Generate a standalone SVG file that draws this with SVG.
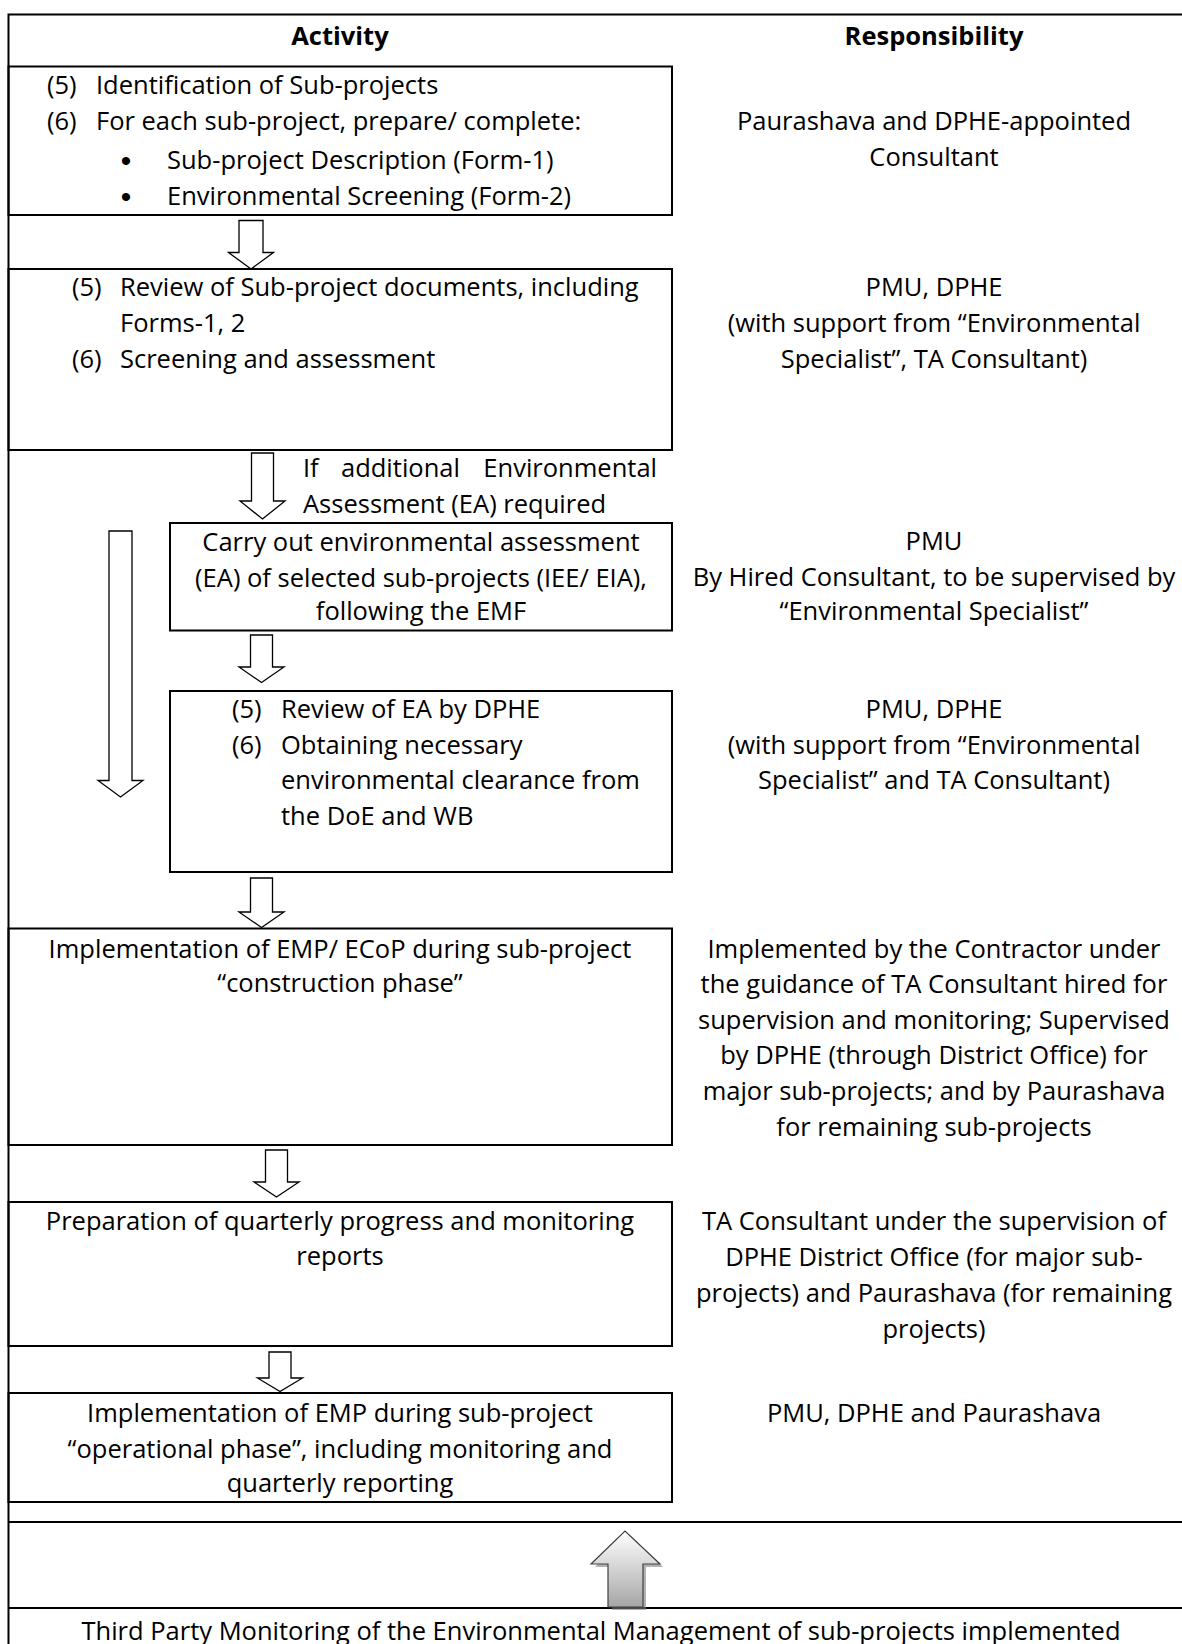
<svg xmlns="http://www.w3.org/2000/svg" width="1182" height="1644" viewBox="0 0 1182 1644">
<style>
text{font-family:"Open Sans","Liberation Sans",sans-serif;font-size:25.5px;fill:#000}
.h{font-weight:bold}
.c{text-anchor:middle}
.b{font-family:"Liberation Sans",sans-serif;font-size:30px}
.box{fill:none;stroke:#000;stroke-width:2}
.line{fill:none;stroke:#000;stroke-width:2}
.arr{fill:#fff;stroke:#000;stroke-width:1.3;stroke-linejoin:miter}
</style>
<defs>
<linearGradient id="g" x1="0" y1="0" x2="0" y2="1">
<stop offset="0" stop-color="#ffffff"/>
<stop offset="1" stop-color="#a6a6a6"/>
</linearGradient>
</defs>
<rect width="1182" height="1644" fill="#fff"/>
<g id="table">
<path class="line" d="M1184 14.5H8.5V1646"/>
<path class="line" d="M8.5 1522H1184"/>
<path class="line" d="M8.5 1608H1184"/>
<text class="h c" x="340" y="45">Activity</text>
<text class="h c" x="934" y="45">Responsibility</text>
</g>
<g id="connectors">
<path class="arr" d="M239 220.5H263V252.5H273.5L251 269L228.5 252.5H239Z"/>
<path class="arr" d="M251.5 453H273.5V501H285L262.5 519L240 501H251.5Z"/>
<path class="arr" d="M109 531H132V780.5H143L120.5 797L98 780.5H109Z"/>
<path class="arr" d="M250.5 635H272.5V667H284L261.5 682.5L239 667H250.5Z"/>
<path class="arr" d="M250.5 878H272.5V912H284L261.5 927.5L239 912H250.5Z"/>
<path class="arr" d="M265.5 1150H287.5V1182H299L276.5 1197L254 1182H265.5Z"/>
<path class="arr" d="M269 1352H291V1378H302.5L280 1391.5L257.5 1378H269Z"/>
<g id="up-arrow">
<path d="M612 1610V1567H595L629 1534L663 1567H646V1610Z" fill="#7f7f7f" opacity="0.6"/>
<path d="M608 1607V1564H591L625 1531L660 1564H643V1607Z" fill="url(#g)" stroke="#404040" stroke-width="1.2"/>
</g>
</g>
<g id="n1">
<rect class="box" x="8.5" y="66.5" width="663.5" height="148.5"/>
<text x="47" y="94">(5)</text><text x="96" y="94">Identification of Sub-projects</text>
<text x="47" y="130">(6)</text><text x="96" y="130">For each sub-project, prepare/ complete:</text>
<text class="c b" x="126" y="171">•</text><text x="167" y="169">Sub-project Description (Form-1)</text>
<text class="c b" x="126" y="207">•</text><text x="167" y="205">Environmental Screening (Form-2)</text>
</g>
<g id="r1">
<text class="c" x="934" y="130">Paurashava and DPHE-appointed</text>
<text class="c" x="934" y="166">Consultant</text>
</g>
<g id="n2">
<rect class="box" x="8.5" y="269" width="663.5" height="181"/>
<text x="72" y="296">(5)</text><text x="120" y="296">Review of Sub-project documents, including</text>
<text x="120" y="332">Forms-1, 2</text>
<text x="72" y="367.5">(6)</text><text x="120" y="367.5">Screening and assessment</text>
</g>
<g id="r2">
<text class="c" x="934" y="296">PMU, DPHE</text>
<text class="c" x="934" y="332">(with support from “Environmental</text>
<text class="c" x="934" y="367.5">Specialist”, TA Consultant)</text>
</g>
<g id="cond">
<text x="303" y="477">If</text><text x="341" y="477">additional</text><text x="657" y="477" text-anchor="end">Environmental</text>
<text x="303" y="512.5">Assessment (EA) required</text>
</g>
<g id="n3">
<rect class="box" x="170" y="523" width="502" height="107.5"/>
<text class="c" x="421" y="551">Carry out environmental assessment</text>
<text class="c" x="421" y="587">(EA) of selected sub-projects (IEE/ EIA),</text>
<text class="c" x="421" y="620">following the EMF</text>
</g>
<g id="r3">
<text class="c" x="934" y="550">PMU</text>
<text class="c" x="934" y="586">By Hired Consultant, to be supervised by</text>
<text class="c" x="934" y="620">“Environmental Specialist”</text>
</g>
<g id="n4">
<rect class="box" x="170" y="691" width="502" height="181"/>
<text x="232" y="718">(5)</text><text x="281" y="718">Review of EA by DPHE</text>
<text x="232" y="754">(6)</text><text x="281" y="754">Obtaining necessary</text>
<text x="281" y="789">environmental clearance from</text>
<text x="281" y="825">the DoE and WB</text>
</g>
<g id="r4">
<text class="c" x="934" y="718">PMU, DPHE</text>
<text class="c" x="934" y="754">(with support from “Environmental</text>
<text class="c" x="934" y="789">Specialist” and TA Consultant)</text>
</g>
<g id="n5">
<rect class="box" x="8.5" y="928.5" width="663.5" height="216.5"/>
<text class="c" x="340" y="957.5">Implementation of EMP/ ECoP during sub-project</text>
<text class="c" x="340" y="991.5">“construction phase”</text>
</g>
<g id="r5">
<text class="c" x="934" y="957.5">Implemented by the Contractor under</text>
<text class="c" x="934" y="993">the guidance of TA Consultant hired for</text>
<text class="c" x="934" y="1028.5">supervision and monitoring; Supervised</text>
<text class="c" x="934" y="1064">by DPHE (through District Office) for</text>
<text class="c" x="934" y="1100">major sub-projects; and by Paurashava</text>
<text class="c" x="934" y="1135.5">for remaining sub-projects</text>
</g>
<g id="n6">
<rect class="box" x="8.5" y="1202" width="663.5" height="144"/>
<text class="c" x="340" y="1230">Preparation of quarterly progress and monitoring</text>
<text class="c" x="340" y="1265">reports</text>
</g>
<g id="r6">
<text class="c" x="934" y="1230">TA Consultant under the supervision of</text>
<text class="c" x="934" y="1266">DPHE District Office (for major sub-</text>
<text class="c" x="934" y="1302">projects) and Paurashava (for remaining</text>
<text class="c" x="934" y="1337.5">projects)</text>
</g>
<g id="n7">
<rect class="box" x="8.5" y="1393" width="663.5" height="109"/>
<text class="c" x="340" y="1421.5">Implementation of EMP during sub-project</text>
<text class="c" x="340" y="1457.5">“operational phase”, including monitoring and</text>
<text class="c" x="340" y="1492">quarterly reporting</text>
</g>
<g id="r7">
<text class="c" x="934" y="1421.5">PMU, DPHE and Paurashava</text>
</g>
<g id="n8">
<text class="c" x="601" y="1640">Third Party Monitoring of the Environmental Management of sub-projects implemented</text>
</g>
</svg>
